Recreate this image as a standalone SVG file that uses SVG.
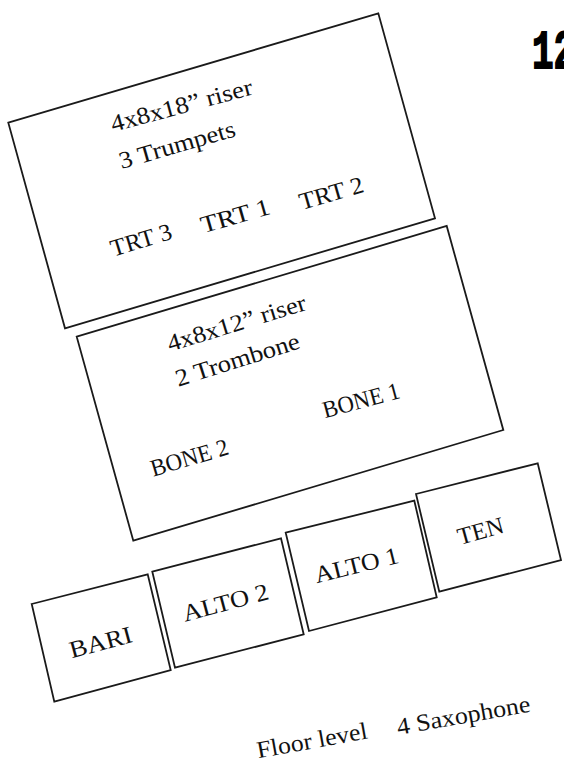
<svg xmlns="http://www.w3.org/2000/svg" width="564" height="764" viewBox="0 0 564 764">
<style>
.box{fill:#fff;stroke:#1a1a1a;stroke-width:1.8;stroke-linejoin:miter}
.t{font-family:"Liberation Serif","Times New Roman",serif;font-size:24px;fill:#111}
.h{font-family:"Liberation Mono","Courier New",monospace;font-weight:bold;font-size:36px;fill:#000;stroke:#000;stroke-width:1.2}
</style>
<rect x="0" y="0" width="564" height="764" fill="#fff"/>
<g id="heading">
<text class="h" transform="translate(532,68) scale(1,1.5)">12</text>
</g>
<g id="trumpet-riser">
<polygon class="box" points="8.3,122.7 378.3,13.3 435,218.3 65,328.3"/>
<text class="t" transform="translate(113,132) rotate(-15)" textLength="146" lengthAdjust="spacingAndGlyphs">4x8x18” riser</text>
<text class="t" transform="translate(121.5,169) rotate(-16)" textLength="120" lengthAdjust="spacingAndGlyphs">3 Trumpets</text>
<text class="t" transform="translate(113.3,256.7) rotate(-17)" textLength="63" lengthAdjust="spacingAndGlyphs">TRT 3</text>
<text class="t" transform="translate(203.3,233.3) rotate(-16)" textLength="71" lengthAdjust="spacingAndGlyphs">TRT 1</text>
<text class="t" transform="translate(301.7,210) rotate(-16)" textLength="66" lengthAdjust="spacingAndGlyphs">TRT 2</text>
</g>
<g id="trombone-riser">
<polygon class="box" points="76.7,336.7 446.7,226 503.3,430 133.3,540.7"/>
<text class="t" transform="translate(170,351.7) rotate(-17)" textLength="144" lengthAdjust="spacingAndGlyphs">4x8x12” riser</text>
<text class="t" transform="translate(178.3,386.7) rotate(-17.5)" textLength="129" lengthAdjust="spacingAndGlyphs">2 Trombone</text>
<text class="t" transform="translate(325,418.3) rotate(-15)" textLength="79" lengthAdjust="spacingAndGlyphs">BONE 1</text>
<text class="t" transform="translate(153.3,476.7) rotate(-16.5)" textLength="80" lengthAdjust="spacingAndGlyphs">BONE 2</text>
</g>
<g id="bari">
<polygon class="box" points="31.7,604 147.7,574.3 170.7,670 54.3,701.7"/>
<text class="t" transform="translate(71.7,658.3) rotate(-15)" textLength="64" lengthAdjust="spacingAndGlyphs">BARI</text>
</g>
<g id="alto2">
<polygon class="box" points="152.3,571.7 281,538.3 303.7,634.3 175,667.7"/>
<text class="t" transform="translate(185,621.7) rotate(-15)" textLength="88" lengthAdjust="spacingAndGlyphs">ALTO 2</text>
</g>
<g id="alto1">
<polygon class="box" points="285.7,532.7 414.3,500.7 436.7,597.3 309,631"/>
<text class="t" transform="translate(316.7,583.3) rotate(-14)" textLength="86" lengthAdjust="spacingAndGlyphs">ALTO 1</text>
</g>
<g id="ten">
<polygon class="box" points="416,494 537.7,463.3 561,560 439.3,591.7"/>
<text class="t" transform="translate(460,545) rotate(-15.5)" textLength="47" lengthAdjust="spacingAndGlyphs">TEN</text>
</g>
<g id="floor-label">
<text class="t" transform="translate(258.3,758.3) rotate(-10.3)" textLength="112" lengthAdjust="spacingAndGlyphs">Floor level</text>
<text class="t" transform="translate(398.3,735) rotate(-10)" textLength="135" lengthAdjust="spacingAndGlyphs">4 Saxophone</text>
</g>
<g id="connectors"></g>
</svg>
